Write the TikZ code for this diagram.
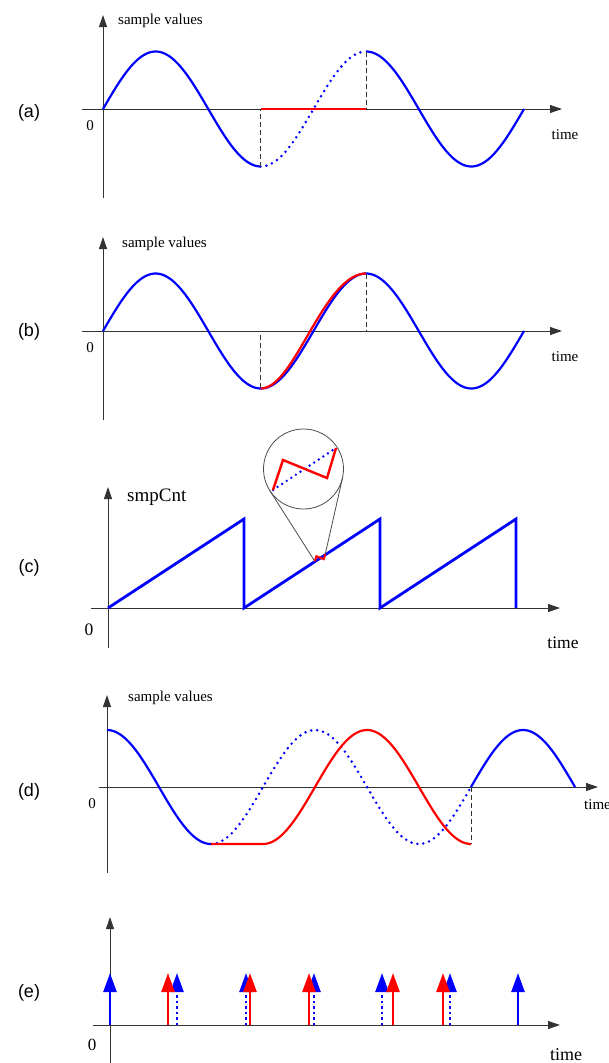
\documentclass[tikz,border=0pt]{standalone}
\usepackage{fontspec}
\setmainfont{Liberation Serif}
\newfontfamily\lblfont{Liberation Sans}
\usetikzlibrary{arrows.meta,calc}
\begin{document}
\begin{tikzpicture}[x=1pt,y=-1pt,
  axis/.style={line width=1pt, draw=black!80, -{Triangle[length=12pt,width=8pt]}},
  sig/.style={blue, line width=2.2pt},
  sigdot/.style={blue, line width=2.8pt, line cap=round, dash pattern=on 0pt off 6pt},
  redsig/.style={red, line width=2.2pt},
  guide/.style={black!80, line width=1pt, dash pattern=on 5pt off 3pt},
  saw/.style={blue, line width=2.8pt},
  plbl/.style={font=\lblfont\fontsize{18}{20}\selectfont, inner sep=0pt},
  txt/.style={font=\fontsize{15}{17}\selectfont, inner sep=0pt},
  bigtxt/.style={font=\fontsize{17.5}{20}\selectfont, inner sep=0pt},
  stem/.style={line width=2.5pt, -{Triangle[length=19pt,width=13pt]}},
  stemdot/.style={stem, dash pattern=on 2.5pt off 3pt},
]
\useasboundingbox (0,0) rectangle (609,1063);

% ================= (a) =================
\node[plbl] (la) at (29,113) {(a)};
\draw[axis] (103,198) -- (103,15);
\draw[axis] (82,109) -- (562,109);
\node[txt, anchor=west] (sva) at (118,21) {sample values};
\node[txt] (za) at (90,126) {0};
\node[txt] (ta) at (565,135) {time};
\coordinate (aT) at (260.5,166.5);
\coordinate (aT0) at (260.5,109);
\coordinate (aP) at (366,51.5);
\coordinate (aP0) at (366,109);
\draw[sig] plot[domain=103:260.5, samples=70] (\x,{109-57.5*sin((\x-103)*1.7102138)});
\draw[sigdot] plot[domain=260.5:366, samples=60] (\x,{109-57.5*sin((\x-103)*1.7102138)});
\draw[sig] plot[domain=366:524, samples=70] (\x,{109-57.5*sin((\x-103)*1.7102138)});
\draw[guide] (aT) -- (aT0);
\draw[guide] (aP) -- (aP0);
\draw[redsig] (aT0) -- (aP0);

% ================= (b) =================
\node[plbl] (lb) at (29,332) {(b)};
\draw[axis] (103,420) -- (103,237);
\draw[axis] (82,331) -- (562,331);
\node[txt, anchor=west] (svb) at (122,244) {sample values};
\node[txt] (zb) at (90,348) {0};
\node[txt] (tb) at (565,357) {time};
\coordinate (bT) at (260.5,388);
\coordinate (bT0) at (260.5,331);
\coordinate (bP) at (366,273.5);
\coordinate (bP0) at (366,331);
\draw[guide] (bT) -- (bT0);
\draw[guide] (bP) -- (bP0);
\draw[sig] plot[domain=103:524, samples=160] (\x,{331-57.5*sin((\x-103)*1.7102138)});
\draw[redsig] plot[domain=0:1, samples=50, variable=\t] ({260.5+105.5*\t-3*sin(180*\t)},{331+57.5*cos(180*\t)});

% ================= (c) =================
\node[plbl] (lc) at (29,568) {(c)};
\draw[axis] (108,648) -- (108,487);
\draw[axis] (91,608) -- (560,608);
\node[font=\fontsize{19}{21}\selectfont, inner sep=0pt, anchor=west] (sc) at (127,497) {smpCnt};
\node[bigtxt] (zc) at (89,630) {0};
\node[bigtxt] (tc) at (563,643) {time};
\draw[saw] (108,608) -- (244,519) -- (244,608) -- (380,519) -- (380,608) -- (516,519) -- (516,608);
% magnifier
\node[circle, draw=black!70, line width=0.8pt, minimum size=80pt, inner sep=0pt, outer sep=0pt] (mag) at (303.5,469) {};
\coordinate (zl) at (314.75,561.2);
\coordinate (zr) at (325.25,554.2);
\draw[black!70, line width=0.8pt] (zl) -- (tangent cs:node=mag,point={(zl)},solution=2);
\draw[black!70, line width=0.8pt] (zr) -- (tangent cs:node=mag,point={(zr)},solution=1);
\draw[red, line width=2pt] (zl) -- (316.4,556.2) -- (323.75,559.2) -- (zr);
\coordinate (m1) at (273,490);
\coordinate (m4) at (336,448);
\draw[blue, line width=2.7pt, line cap=round, dash pattern=on 0pt off 5.5pt] (m1) -- (m4);
\draw[red, line width=2.4pt] (m1) -- (283,460) -- (327,478) -- (m4);

% ================= (d) =================
\node[plbl] (ld) at (29,792) {(d)};
\draw[axis] (107,873) -- (107,695);
\draw[axis] (99,787) -- (598,787);
\node[txt, anchor=west] (svd) at (128,698) {sample values};
\node[txt] (zd) at (92,804) {0};
\node[txt, anchor=west] (td) at (584,805) {time};
\coordinate (dE) at (471,844);
\coordinate (dE0) at (471,787);
\draw[guide] (dE0) -- (dE);
\draw[sig] plot[domain=107:211, samples=50] (\x,{787-57*cos((\x-107)*1.7307692)});
\draw[sigdot] plot[domain=211:471, samples=100] (\x,{787-57*cos((\x-107)*1.7307692)});
\draw[sig] plot[domain=471:575, samples=50] (\x,{787-57*cos((\x-107)*1.7307692)});
\draw[redsig] (211,844) -- (263,844) -- plot[domain=263:471, samples=90] (\x,{787+57*cos((\x-263)*1.7307692)});

% ================= (e) =================
\node[plbl] (le) at (29,993) {(e)};
\draw[axis] (110,1063) -- (110,917);
\draw[axis] (93,1025) -- (560,1025);
\node[font=\fontsize{17}{19}\selectfont, inner sep=0pt] (ze) at (92,1045) {0};
\node[font=\fontsize{18}{20}\selectfont, inner sep=0pt, anchor=base] (te) at (566,1060) {time};
\foreach \px in {177,246,314,382,450}{
  \draw[stemdot, blue] (\px,1025) -- (\px,973);
}
\foreach \px in {168,250,309,393,443}{
  \draw[stem, red] (\px,1025) -- (\px,973);
}
\draw[stem, blue] (110,1025) -- (110,973);
\draw[stem, blue] (518,1025) -- (518,973);
\end{tikzpicture}
\end{document}
